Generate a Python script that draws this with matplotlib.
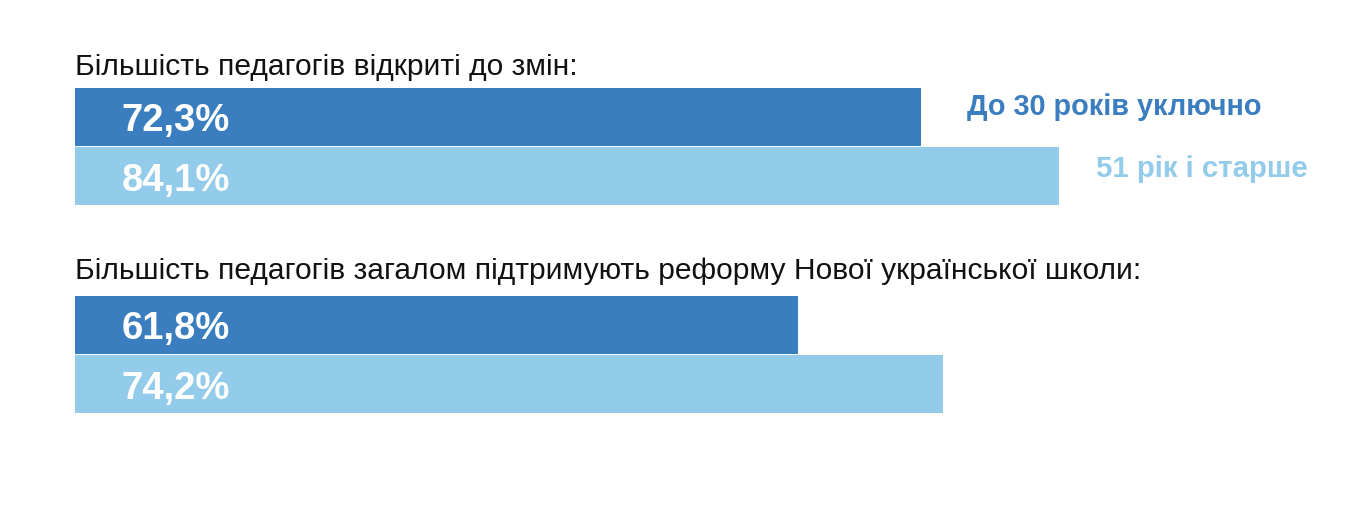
import matplotlib
matplotlib.use("Agg")
import matplotlib.pyplot as plt

plt.rcParams['font.family'] = ['Liberation Sans', 'DejaVu Sans']

titles = [
    "Більшість педагогів відкриті до змін:",
    "Більшість педагогів загалом підтримують реформу Нової української школи:",
]
groups = ["До 30 років уключно", "51 рік і старше"]
young = [72.3, 61.8]
old = [84.1, 74.2]
colors = ["#3a7ebf", "#93cbea"]

W, H = 1362, 506
fig = plt.figure(figsize=(W / 100, H / 100), dpi=100)

def px_axes(left, top, width, height):
    return fig.add_axes([left / W, 1 - (top + height) / H, width / W, height / H])

# bar panels, in pixel boxes: (top, bottom)
panels = [(88, 207), (296, 415)]
title_y = [67, 271]

for i, (top, bottom) in enumerate(panels):
    ax = px_axes(75, top, 1170, bottom - top)
    vals = [young[i], old[i]]
    ax.barh([0, 1], vals, height=0.98, color=colors, align="center")
    ax.set_xlim(0, 100)
    ax.set_ylim(1.5, -0.5)
    ax.axis("off")
    for j, v in enumerate(vals):
        ax.text(4.0, j + 0.06, f"{v:.1f}%".replace(".", ","), color="white",
                fontsize=27.5, fontweight="bold", va="center", ha="left")
    fig.text(75 / W, 1 - title_y[i] / H, titles[i], fontsize=21.6,
             va="center", ha="left", color="#111111")

# legend labels
fig.text(967 / W, 1 - 107 / H, groups[0], color=colors[0], fontsize=20.8,
         fontweight="bold", va="center", ha="left")
fig.text(1096 / W, 1 - 169 / H, groups[1], color=colors[1], fontsize=21.2,
         fontweight="bold", va="center", ha="left")

fig.savefig("out.png", dpi=100)
